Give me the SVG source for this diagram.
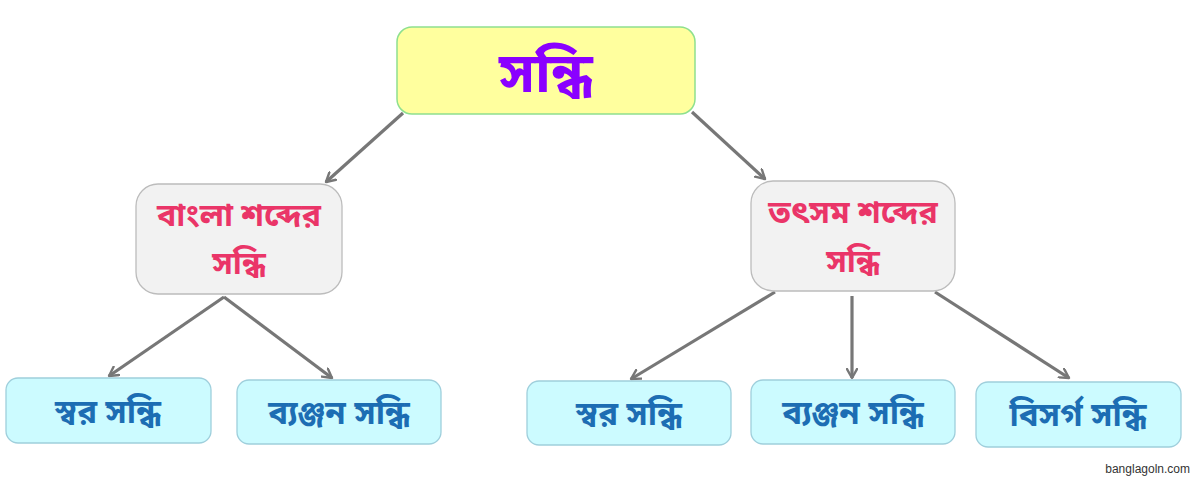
<svg xmlns="http://www.w3.org/2000/svg" width="1199" height="478" viewBox="0 0 1199 478">
<defs>
<marker id="arr" viewBox="0 0 12 12" refX="10" refY="6" markerWidth="12" markerHeight="12" markerUnits="userSpaceOnUse" orient="auto">
<path d="M1,1 L10,6 L1,11" fill="none" stroke="#777" stroke-width="2.4" stroke-linecap="round" stroke-linejoin="round"/>
</marker>
<style>
.bn{font-family:"Noto Sans Bengali","Noto Serif Bengali","Lohit Bengali","Noto Sans",sans-serif;font-weight:bold;text-anchor:middle}
.root{fill:#ffff9e;stroke:#8ee08e;stroke-width:1.5}
.mid{fill:#f2f2f2;stroke:#bcbcbc;stroke-width:1.3}
.leaf{fill:#ccfbff;stroke:#9fcfdc;stroke-width:1.3}
.t0{fill:#8a00ff;font-size:56px}
.t1{fill:#ea3568;font-size:32px}
.t2{fill:#1c6db3;font-size:33px}
.conn line{stroke:#777;stroke-width:3.2;marker-end:url(#arr)}
</style>
</defs>
<rect width="1199" height="478" fill="#ffffff"/>
<g class="conn" id="connectors">
<line x1="403" y1="113" x2="326" y2="182"/>
<line x1="692" y1="112" x2="765" y2="179"/>
<line x1="224" y1="297" x2="109" y2="376"/>
<line x1="224" y1="297" x2="332" y2="378"/>
<line x1="775" y1="292" x2="631" y2="379"/>
<line x1="852" y1="296" x2="852" y2="378"/>
<line x1="935" y1="292" x2="1069" y2="378"/>
</g>
<g id="root"><rect class="root" x="397" y="27" width="298" height="87" rx="15"/><text class="bn t0" x="546" y="92">সন্ধি</text></g>
<g id="bangla"><rect class="mid" x="136" y="184" width="206" height="110" rx="22"/><text class="bn t1" x="239" y="226">বাংলা শব্দের</text><text class="bn t1" x="239" y="274">সন্ধি</text></g>
<g id="tatsam"><rect class="mid" x="751" y="181" width="204" height="110" rx="22"/><text class="bn t1" x="853" y="223">তৎসম শব্দের</text><text class="bn t1" x="853" y="272">সন্ধি</text></g>
<g id="b-swar"><rect class="leaf" x="6" y="378" width="205" height="65" rx="12"/><text class="bn t2" x="108" y="423">স্বর সন্ধি</text></g>
<g id="b-byanjan"><rect class="leaf" x="237" y="380" width="204" height="64" rx="12"/><text class="bn t2" x="339" y="424">ব্যঞ্জন সন্ধি</text></g>
<g id="t-swar"><rect class="leaf" x="527" y="381" width="204" height="64" rx="12"/><text class="bn t2" x="629" y="425">স্বর সন্ধি</text></g>
<g id="t-byanjan"><rect class="leaf" x="751" y="380" width="204" height="64" rx="12"/><text class="bn t2" x="853" y="424">ব্যঞ্জন সন্ধি</text></g>
<g id="t-bisarga"><rect class="leaf" x="976" y="382" width="205" height="65" rx="12"/><text class="bn t2" x="1078" y="426">বিসর্গ সন্ধি</text></g>
<text x="1190" y="473" font-family="Liberation Sans, sans-serif" font-size="12" fill="#333" text-anchor="end">banglagoln.com</text>
</svg>
